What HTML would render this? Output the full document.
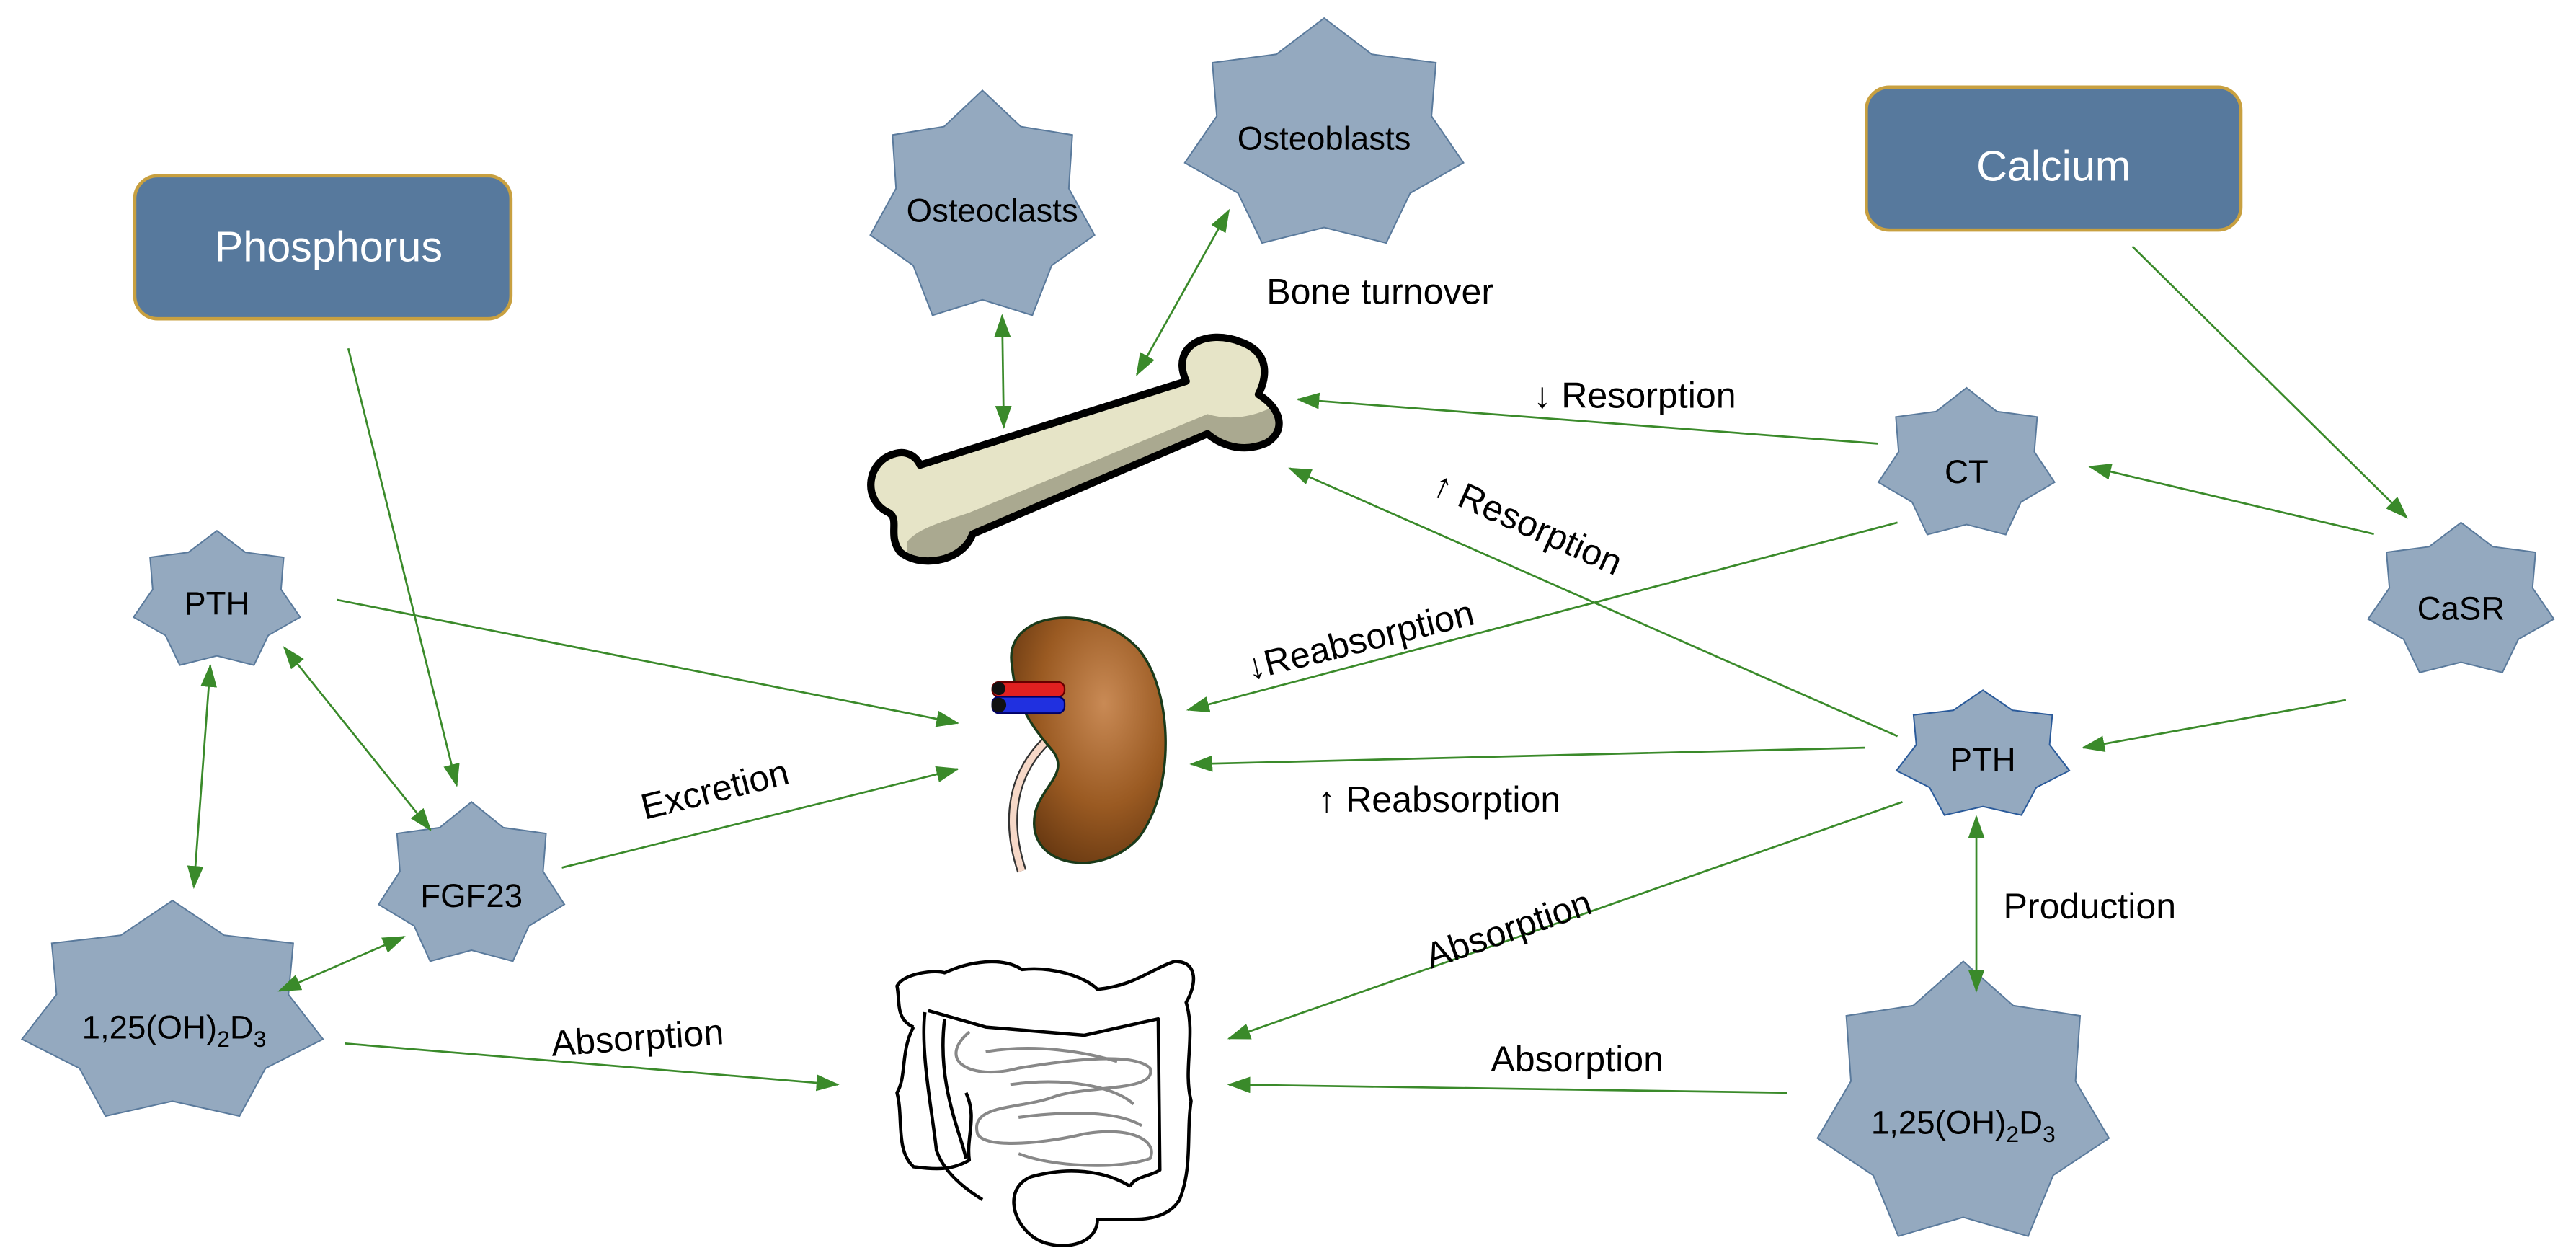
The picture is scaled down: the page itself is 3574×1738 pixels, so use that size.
<!DOCTYPE html>
<html><head><meta charset="utf-8"><style>
html,body{margin:0;padding:0;background:#fff;}
svg{display:block;}
text{font-family:"Liberation Sans",Arial,sans-serif;}
</style></head><body>
<svg width="3574" height="1738" viewBox="0 0 1568 762.5" xmlns="http://www.w3.org/2000/svg">
<defs>
<polygon id="star" vector-effect="non-scaling-stroke" points="0,-1 0.334,-0.694 0.782,-0.623 0.751,-0.171 0.975,0.223 0.602,0.480 0.434,0.901 0,0.77 -0.434,0.901 -0.602,0.480 -0.975,0.223 -0.751,-0.171 -0.782,-0.623 -0.334,-0.694"/>
<marker id="ah" viewBox="0 0 14 10" refX="13" refY="5" markerWidth="14" markerHeight="10" markerUnits="userSpaceOnUse" orient="auto-start-reverse">
<path d="M0,0 L14,5 L0,10 Z" fill="#3a8a2a"/>
</marker>
<radialGradient id="kid" cx="0.6" cy="0.35" r="0.7">
<stop offset="0" stop-color="#c98a55"/><stop offset="0.6" stop-color="#9a5a22"/><stop offset="1" stop-color="#6a3a12"/>
</radialGradient>
</defs>

<rect x="82" y="107" width="229" height="87" rx="14" fill="#57799d" stroke="#c8a040" stroke-width="2"/>
<text x="200" y="159" font-size="26" fill="#fff" text-anchor="middle">Phosphorus</text>
<rect x="1136" y="53" width="228" height="87" rx="14" fill="#57799d" stroke="#c8a040" stroke-width="2"/>
<text x="1250" y="110" font-size="26" fill="#fff" text-anchor="middle">Calcium</text>

<g fill="#94a9bf" stroke="#5a7a9c" stroke-width="2">
<use href="#star" transform="translate(598,127) scale(70,72)"/>
<use href="#star" transform="translate(806,83) scale(87,72)"/>
<use href="#star" transform="translate(132,366) scale(52,43)"/>
<use href="#star" transform="translate(287,539) scale(58,51)"/>
<use href="#star" transform="translate(105,617) scale(94,69)"/>
<use href="#star" transform="translate(1197,283) scale(55,47)"/>
<use href="#star" transform="translate(1498,366) scale(58,48)"/>
<use href="#star" transform="translate(1195,673) scale(91,88)"/>
<use href="#star" transform="translate(1207,460) scale(54,40)" stroke="#2a5a9a"/>
</g>
<g font-size="20" text-anchor="middle" fill="#000">
<text x="604" y="135">Osteoclasts</text>
<text x="806" y="91">Osteoblasts</text>
<text x="132" y="374">PTH</text>
<text x="287" y="552">FGF23</text>
<text x="106" y="632">1,25(OH)<tspan font-size="14" dy="5">2</tspan><tspan dy="-5">D</tspan><tspan font-size="14" dy="5">3</tspan></text>
<text x="1197" y="294">CT</text>
<text x="1498" y="377">CaSR</text>
<text x="1207" y="469">PTH</text>
<text x="1195" y="690">1,25(OH)<tspan font-size="14" dy="5">2</tspan><tspan dy="-5">D</tspan><tspan font-size="14" dy="5">3</tspan></text>
</g>

<path d="M560,283 L722,232 C712,210 735,200 755,208 C775,215 770,232 766,240 C782,250 782,264 770,270 C755,276 742,270 735,264 L592,325 C586,342 560,346 548,336 C540,326 548,316 541,312 C524,304 528,280 545,276 C552,274 558,278 560,283 Z" fill="#e6e4c7"/>
<path d="M552,330 C558,322 572,318 590,312 L735,252 C748,256 762,254 774,248 C782,260 774,270 768,270 C755,276 742,270 735,264 L592,325 C586,340 566,344 552,336 Z" fill="#aaa990"/>
<path d="M560,283 L722,232 C712,210 735,200 755,208 C775,215 770,232 766,240 C782,250 782,264 770,270 C755,276 742,270 735,264 L592,325 C586,342 560,346 548,336 C540,326 548,316 541,312 C524,304 528,280 545,276 C552,274 558,278 560,283 Z" fill="none" stroke="#000" stroke-width="4.5" stroke-linejoin="round"/>

<path d="M622,530 C612,500 615,470 640,448" fill="none" stroke="#333" stroke-width="6"/>
<path d="M622,530 C612,500 615,470 640,448" fill="none" stroke="#f6d8c8" stroke-width="4"/>
<path d="M616,405 C610,372 665,365 693,395 C714,420 716,480 693,510 C670,535 624,528 630,495 C634,478 652,470 640,456 C630,444 618,430 616,405 Z" fill="url(#kid)" stroke="#1a3a1a" stroke-width="1.5"/>
<rect x="604" y="415" width="44" height="9" rx="4" fill="#e02020" stroke="#600" stroke-width="1"/>
<rect x="604" y="424" width="44" height="10" rx="4" fill="#2030e0" stroke="#006" stroke-width="1"/>
<circle cx="608" cy="419" r="4" fill="#111"/>
<circle cx="608" cy="429" r="4.5" fill="#111"/>

<g fill="none" stroke="#000" stroke-width="2" stroke-linejoin="round">
<path d="M556,625 C545,620 548,610 546,600 C550,592 570,590 575,592 C590,585 610,582 622,590 C640,588 660,594 668,602 C690,600 700,590 715,585 C730,585 728,600 722,610 C728,630 720,650 725,670 C722,690 726,710 718,730 C712,740 700,742 690,742 L668,742 C668,760 640,762 628,752 C615,742 612,722 628,716 C650,710 672,712 688,722"/>
<path d="M556,625 C548,640 552,655 546,665 C550,680 545,700 556,710 C570,712 580,712 590,706 C588,692 595,680 588,665"/>
<path d="M563,616 C560,640 568,680 570,700 C574,712 585,722 598,730"/>
<path d="M565,615 L600,625 L660,630 L705,620 L706,712 C700,716 690,716 688,722"/>
<path d="M575,620 C570,660 585,690 588,705"/>
</g>
<g fill="none" stroke="#888" stroke-width="1.8">
<path d="M590,628 C570,645 590,658 620,650 C650,645 690,640 700,650 C705,665 660,660 640,668 C620,675 590,672 595,690 C600,700 640,695 660,690 C690,685 705,695 700,705 C680,712 640,710 620,702"/>
<path d="M600,640 C630,635 660,640 680,646 M615,660 C650,655 680,662 690,672 M620,680 C650,676 680,676 695,685"/>
</g>

<g stroke="#3a8a2a" stroke-width="1.2" fill="none" marker-end="url(#ah)">
<line x1="212" y1="212" x2="278" y2="478"/>
<line x1="128" y1="405" x2="118" y2="540" marker-start="url(#ah)"/>
<line x1="173" y1="394" x2="262" y2="505" marker-start="url(#ah)"/>
<line x1="170" y1="603" x2="246" y2="570" marker-start="url(#ah)"/>
<line x1="205" y1="365" x2="583" y2="440"/>
<line x1="342" y1="528" x2="583" y2="468"/>
<line x1="210" y1="635" x2="510" y2="660"/>
<line x1="610" y1="192" x2="611" y2="260" marker-start="url(#ah)"/>
<line x1="748" y1="128" x2="692" y2="228" marker-start="url(#ah)"/>
<line x1="1143" y1="270" x2="790" y2="243"/>
<line x1="1155" y1="448" x2="785" y2="285"/>
<line x1="1155" y1="318" x2="723" y2="432"/>
<line x1="1135" y1="455" x2="725" y2="465"/>
<line x1="1158" y1="488" x2="748" y2="632"/>
<line x1="1203" y1="497" x2="1203" y2="603" marker-start="url(#ah)"/>
<line x1="1088" y1="665" x2="748" y2="660"/>
<line x1="1298" y1="150" x2="1465" y2="315"/>
<line x1="1445" y1="325" x2="1272" y2="284"/>
<line x1="1428" y1="426" x2="1268" y2="455"/>
</g>

<g font-size="22" fill="#000">
<text x="840" y="185" text-anchor="middle">Bone turnover</text>
<text x="995" y="248" text-anchor="middle">↓ Resorption</text>
<text x="930" y="326" text-anchor="middle" transform="rotate(24 930 318)">↑ Resorption</text>
<text x="828" y="397" text-anchor="middle" transform="rotate(-14 828 390)">↓Reabsorption</text>
<text x="876" y="494" text-anchor="middle">↑ Reabsorption</text>
<text x="918" y="573" text-anchor="middle" transform="rotate(-19 918 565)">Absorption</text>
<text x="1272" y="559" text-anchor="middle">Production</text>
<text x="960" y="652" text-anchor="middle">Absorption</text>
<text x="435" y="488" text-anchor="middle" transform="rotate(-14 435 480)">Excretion</text>
<text x="388" y="639" text-anchor="middle" transform="rotate(-4 388 632)">Absorption</text>
</g>
</svg>
</body></html>
